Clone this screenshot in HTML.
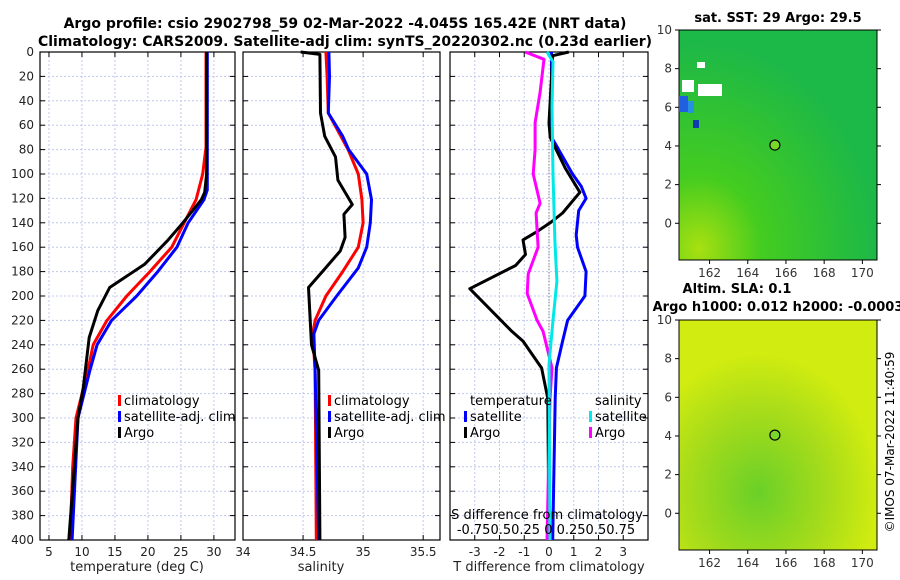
<!DOCTYPE html>
<html><head><meta charset="utf-8"><style>
body{margin:0;background:#fff;}
svg{display:block;font-family:"DejaVu Sans","Liberation Sans",sans-serif;}
</style></head><body>
<svg id="chart" width="900" height="580" xmlns="http://www.w3.org/2000/svg">
<defs>
<radialGradient id="sstG" cx="0.1" cy="0.95" r="0.9">
<stop offset="0" stop-color="#a8e010"/><stop offset="0.35" stop-color="#44cc20"/><stop offset="1" stop-color="#1cb848"/></radialGradient>
<radialGradient id="slaG" cx="0.4" cy="0.75" r="0.6">
<stop offset="0" stop-color="#6ad028"/><stop offset="0.6" stop-color="#a8dc1a"/><stop offset="1" stop-color="#d0ec10"/></radialGradient>
</defs>
<text x="345" y="28" text-anchor="middle" font-size="14" font-weight="bold">Argo profile: csio 2902798_59 02-Mar-2022 -4.045S 165.42E (NRT data)</text>
<text x="345" y="46" text-anchor="middle" font-size="14" font-weight="bold">Climatology: CARS2009. Satellite-adj clim: synTS_20220302.nc (0.23d earlier)</text>
<g id="plots"></g>
<text transform="translate(894,442) rotate(-90)" text-anchor="middle" font-size="12">©IMOS 07-Mar-2022 11:40:59</text>
</svg>
<script>
const NS="http://www.w3.org/2000/svg";
const root=document.getElementById('plots');
function mk(tag,attrs,parent,txt){const e=document.createElementNS(NS,tag);for(const k in attrs)e.setAttribute(k,attrs[k]);if(txt!==undefined)e.textContent=txt;(parent||root).appendChild(e);return e;}

// ---- data ----
const depthTicks=[0,20,40,60,80,100,120,140,160,180,200,220,240,260,280,300,320,340,360,380,400];
const tTicks=[5,10,15,20,25,30];
const sTicks=[34,34.5,35,35.5];
const dTTicks=[-3,-2,-1,0,1,2,3];
const tClimDepth=[0,78,100,121,140,160,180,200,220,240,261,300,340,400];
const tClim=[28.8,28.8,28.3,27.3,25.5,23.6,20.3,16.8,13.8,11.7,10.9,9.1,8.6,8.2];
const tSatDepth=[0,113,121,140,160,180,200,220,240,261,300,400];
const tSat=[29.0,29.0,28.5,26.1,24.4,21.5,18.3,14.5,12.3,11.2,9.4,8.5];
const tArgoDepth=[0,100,115,121,140,155,174,193,212,234,275,300,400];
const tArgo=[28.9,28.9,28.6,28.1,25.3,22.9,19.5,14.2,12.4,11.1,10.2,9.4,8.0];
const sClimDepth=[0,20,50,80,100,121,140,160,180,200,220,231,261,400];
const sClim=[34.69,34.70,34.71,34.875,34.96,34.99,35.0,34.96,34.83,34.69,34.6,34.58,34.6,34.61];
const sSatDepth=[0,20,50,69,80,100,121,140,160,177,200,220,231,261,400];
const sSat=[34.715,34.72,34.71,34.83,34.88,35.03,35.07,35.06,35.03,34.96,34.78,34.63,34.59,34.6,34.63];
const sArgoDepth=[0,2,50,69,86,105,125,133,152,163,179,193,240,261,400];
const sArgo=[34.48,34.64,34.645,34.68,34.77,34.79,34.91,34.84,34.85,34.81,34.67,34.545,34.57,34.63,34.64];
const dTSatDepth=[0,70,75,100,110,120,130,150,160,180,200,220,237,259,284,400];
const dTSat=[0.1,0.1,0.25,0.95,1.3,1.5,1.2,1.1,1.15,1.5,1.45,0.75,0.55,0.3,0.25,0.15];
const dTArgoDepth=[0,3,58,70,95,115,132,140,148,154,166,175,194,229,237,259,284,400];
const dTArgo=[0.8,0.15,0,0.05,0.65,1.25,0.55,0.05,-0.55,-1.05,-0.95,-1.35,-3.2,-1.5,-1.05,-0.3,-0.05,0];
const dSArgoDepth=[0,6,33,58,80,100,124,132,160,182,198,220,229,259,284,400];
const dSArgo=[-0.24,-0.05,-0.09,-0.14,-0.14,-0.16,-0.09,-0.13,-0.11,-0.21,-0.22,-0.12,-0.06,0.03,0.01,-0.02];
const dSSatDepth=[0,8,45,100,155,188,220,256,400];
const dSSat=[-0.02,0.04,0.03,0.04,0.06,0.08,0.04,0.0,0.01];

const Y0=52,Y1=540;
const yD=d=>Y0+(d/400)*(Y1-Y0);
function panel(name,x0,x1,xmin,xmax,ticks,label){
  const g=mk('g',{});
  
  
  const xf=v=>x0+(v-xmin)/(xmax-xmin)*(x1-x0);
  depthTicks.forEach(d=>{const l=mk('line',{x1:x0,x2:x1,y1:yD(d),y2:yD(d),stroke:'#c0c8ee','stroke-dasharray':'2,2','stroke-width':1},g);
    });
  ticks.forEach(t=>{const l=mk('line',{x1:xf(t),x2:xf(t),y1:Y0,y2:Y1,stroke:'#c0c8ee','stroke-dasharray':'2,2','stroke-width':1},g);
    
    mk('line',{x1:xf(t),x2:xf(t),y1:Y1,y2:Y1-5,stroke:'#000'},g);mk('line',{x1:xf(t),x2:xf(t),y1:Y0,y2:Y0+5,stroke:'#000'},g);
    if(label){const tx=mk('text',{x:xf(t),y:Y1+16,'text-anchor':'middle','font-size':12,fill:'#222'},g,String(t));
    }});
  depthTicks.forEach(d=>{mk('line',{x1:x0,x2:x0+5,y1:yD(d),y2:yD(d),stroke:'#000'},g);mk('line',{x1:x1,x2:x1-5,y1:yD(d),y2:yD(d),stroke:'#000'},g);});
  const r=mk('rect',{x:x0,y:Y0,width:x1-x0,height:Y1-Y0,fill:'none',stroke:'#000','stroke-width':1.2},g);
  
  return {g,xf};
}
function line(p,xs,ds,color,name,xf){
  const pts=xs.map((v,i)=>(xf||p.xf)(v).toFixed(1)+','+yD(ds[i]).toFixed(1)).join(' ');
  const l=mk('polyline',{points:pts,fill:'none',stroke:color,'stroke-width':3,'stroke-linejoin':'round'},p.g);
  
}
function legend(g,x,y,color,text,name){
  mk('rect',{x:x,y:y-10,width:3,height:11,fill:color},g);
  const t=mk('text',{x:x+6,y:y,'font-size':13,fill:'#000'},g,text);
  
}
// panel 1
const p1=panel('temperature-panel',40,235,3.64,33.2,tTicks,true);
depthTicks.forEach(d=>{const t=mk('text',{x:34,y:yD(d)+4,'text-anchor':'end','font-size':12,fill:'#222'},p1.g,String(d));
  });
line(p1,tClim,tClimDepth,'#ff0000','temp-climatology-line');
line(p1,tSat,tSatDepth,'#0000ff','temp-satellite-line');
line(p1,tArgo,tArgoDepth,'#000','temp-argo-line');
legend(p1.g,118,405,'#ff0000','climatology','legend-climatology');
legend(p1.g,118,421,'#0000ff','satellite-adj. clim','legend-satellite');
legend(p1.g,118,437,'#000','Argo','legend-argo');
mk('text',{x:137,y:571,'text-anchor':'middle','font-size':13,fill:'#222'},p1.g,'temperature (deg C)');
// panel 2
const p2=panel('salinity-panel',243,440,34,35.64,sTicks,true);
line(p2,sClim,sClimDepth,'#ff0000','sal-climatology-line');
line(p2,sSat,sSatDepth,'#0000ff','sal-satellite-line');
line(p2,sArgo,sArgoDepth,'#000','sal-argo-line');
legend(p2.g,328,405,'#ff0000','climatology','legend-climatology-2');
legend(p2.g,328,421,'#0000ff','satellite-adj. clim','legend-satellite-2');
legend(p2.g,328,437,'#000','Argo','legend-argo-2');
mk('text',{x:321,y:571,'text-anchor':'middle','font-size':13,fill:'#222'},p2.g,'salinity');
// panel 3
const p3=panel('difference-panel',450,648,-4,4,dTTicks,true);
const xS=v=>549+v*99;
mk('line',{x1:549,x2:549,y1:yD(60),y2:yD(300),stroke:'#555','stroke-dasharray':'1,2'},p3.g);
line(p3,dTSat,dTSatDepth,'#0000ff','dT-satellite-line');
line(p3,dTArgo,dTArgoDepth,'#000','dT-argo-line');
line(p3,dSArgo,dSArgoDepth,'#ff00ff','dS-argo-line',xS);
line(p3,dSSat,dSSatDepth,'#00e8e8','dS-satellite-line',xS);
mk('text',{x:470,y:405,'font-size':13},p3.g,'temperature');
mk('text',{x:595,y:405,'font-size':13},p3.g,'salinity');
legend(p3.g,464,421,'#0000ff','satellite','legend-dT-satellite');
legend(p3.g,464,437,'#000','Argo','legend-dT-argo');
legend(p3.g,589,421,'#00e8e8','satellite','legend-dS-satellite');
legend(p3.g,589,437,'#ff00ff','Argo','legend-dS-argo');
mk('text',{x:547,y:519,'text-anchor':'middle','font-size':13},p3.g,'S difference from climatology');
mk('text',{x:546,y:534,'text-anchor':'middle','font-size':13},p3.g,'-0.750.50.25 0  0.250.50.75');
mk('text',{x:549,y:571,'text-anchor':'middle','font-size':13,fill:'#222'},p3.g,'T difference from climatology');

// maps
const lonTicks=[162,164,166,168,170],latTicks=[0,2,4,6,8,10];
function map(name,y0,y1,fill,titles){
  const g=mk('g',{});
  
  const x0=679,x1=877;
  const lx=v=>x0+(v-160.4)*19.1, ly=v=>y0+(10-v)*((y1-y0)/11.9);
  mk('rect',{x:x0,y:y0,width:x1-x0,height:y1-y0,fill:fill,stroke:'#000'},g);
  lonTicks.forEach(t=>{mk('line',{x1:lx(t),x2:lx(t),y1:y1,y2:y1+4,stroke:'#000'},g);
    const tx=mk('text',{x:lx(t),y:y1+17,'text-anchor':'middle','font-size':12,fill:'#333'},g,String(t));});
  latTicks.forEach(t=>{mk('line',{x1:x0-4,x2:x0,y1:ly(t),y2:ly(t),stroke:'#000'},g);mk('line',{x1:x1,x2:x1+4,y1:ly(t),y2:ly(t),stroke:'#000'},g);
    const tx=mk('text',{x:x0-7,y:ly(t)+4,'text-anchor':'end','font-size':12,fill:'#333'},g,String(t));});
  const c=mk('circle',{cx:lx(165.42),cy:ly(4.045),r:5,fill:'#7ad828',stroke:'#000','stroke-width':1.2},g);
  
  titles.forEach((t,i)=>{const tx=mk('text',{x:t[1],y:t[2],'text-anchor':'middle','font-size':13,'font-weight':'bold'},g,t[0]);});
  return g;
}
const m1=map('sst-map',30,260,'url(#sstG)',[['sat. SST: 29 Argo: 29.5',778,22]]);
mk('rect',{x:679,y:96,width:9,height:16,fill:'#2060e0'},m1);
mk('rect',{x:688,y:101,width:6,height:12,fill:'#2890e0'},m1);
mk('rect',{x:693,y:120,width:6,height:8,fill:'#103ab0'},m1);
mk('rect',{x:697,y:62,width:8,height:6,fill:'#fff'},m1);
mk('rect',{x:682,y:80,width:12,height:12,fill:'#fff'},m1);
mk('rect',{x:698,y:84,width:24,height:12,fill:'#fff'},m1);
const m2=map('sla-map',320,550,'url(#slaG)',[['Altim. SLA: 0.1',737,293],['Argo h1000: 0.012 h2000: -0.0003',778,311]]);
</script>
</body></html>
